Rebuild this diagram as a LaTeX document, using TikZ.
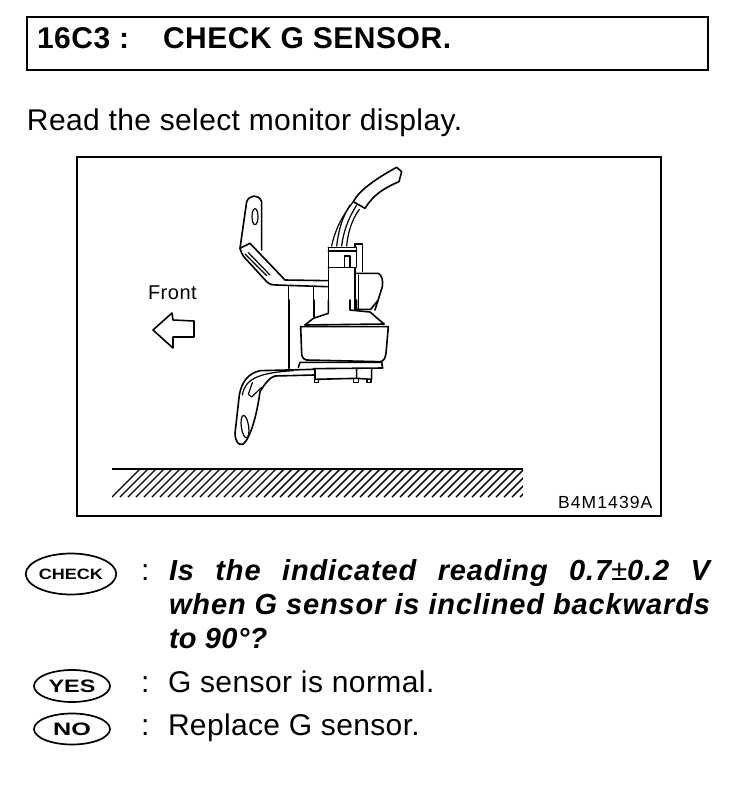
\documentclass[tikz,border=0pt]{standalone}
\usepackage{graphicx}
\usepackage{fontspec}
\setmainfont{Liberation Sans}
\usetikzlibrary{shapes.geometric}
\tikzset{
  ink/.style={line width=1.6pt,line join=round,line cap=round},
  fine/.style={line width=1.2pt,line join=round,line cap=round},
  txt/.style={anchor=base west,inner sep=0pt,outer sep=0pt,text=black},
  badge/.style={draw,ellipse,line width=1.7pt,inner sep=0pt}
}
\newcommand{\spaced}[2]{\addfontfeatures{LetterSpace=#1}#2}
\begin{document}
\begin{tikzpicture}[x=1pt,y=-1pt]
\useasboundingbox (0,0) rectangle (752,796);
\fill[white] (0,0) rectangle (752,796);
% header
\draw[line width=2.4pt] (27,17) rectangle (708,70);
\node[txt,font=\bfseries\fontsize{30}{30}\selectfont] (code) at (37,48) {\spaced{1.8}{16C3 :}};
\node[txt,font=\bfseries\fontsize{30}{30}\selectfont] (title) at (163,48) {\spaced{1.8}{CHECK G SENSOR.}};
\node[txt,font=\fontsize{30}{30}\selectfont] (lead) at (27,130) {\spaced{1.3}{Read the select monitor display.}};
% figure frame
\draw[line width=1.6pt] (77,157) rectangle (661,516);
\node[txt,font=\fontsize{20}{20}\selectfont] (front) at (148,299) {\spaced{2.5}{Front}};
\node[txt,font=\fontsize{17.5}{17.5}\selectfont] (ref) at (558,508) {\spaced{6.4}{B4M1439A}};
\draw[ink] (153,330) -- (172,313) -- (173,320) -- (194,321) -- (194,337) -- (173,337) -- (173,348) -- cycle;
% ground
\draw[line width=2pt] (112,469) -- (523,469);
\begin{scope}
\clip (112,469) rectangle (523,497);
\foreach \i in {0,...,56} {
  \draw[line width=1.4pt] ({112+\i*8},497) -- ++(30,-30);
}
\end{scope}
% upper part of the sensor
\begin{scope}[shift={(210,160)},scale=1/3]
\draw[ink] (90,265) -- (110,125) .. controls (118,105) and (145,100) .. (155,125) -- (155,270);
\draw[fine] (135,170) ellipse (9 and 24);
\draw[ink] (90,265) -- (120,250) -- (225,360) -- (352,362);
\draw[ink] (90,265) .. controls (95,285) and (105,295) .. (115,305) -- (170,365) .. controls (180,375) and (190,375) .. (200,375) -- (352,380);
\draw[fine] (105,282) -- (170,347);
\draw[fine] (115,278) -- (180,345);
\draw[ink] (235,378) -- (235,450);
\draw[ink] (310,380) -- (310,450);
% cable
\draw[ink] (430,125) .. controls (445,95) and (490,60) .. (560,22) -- (575,35) -- (567,65) .. controls (520,85) and (490,105) .. (465,145) -- cycle;
\draw[fine] (430,125) .. controls (395,170) and (375,210) .. (365,258);
\draw[fine] (420,135) .. controls (395,175) and (385,215) .. (380,258);
\draw[fine] (440,135) .. controls (415,175) and (400,215) .. (395,258);
\draw[fine] (448,148) .. controls (425,180) and (413,220) .. (410,258);
% connector
\draw[ink] (355,262) -- (435,262) -- (435,252) -- (458,252) -- (458,335);
\draw[ink] (355,262) -- (355,450);
\draw[ink] (355,273) -- (440,273);
\draw[ink] (440,262) -- (440,322);
\draw[ink] (403,322) -- (403,288) -- (420,288) -- (420,322);
\draw[ink] (355,322) -- (435,322) -- (435,450);
\draw[ink] (440,340) -- (505,340) .. controls (515,345) and (520,360) .. (517,380) -- (495,450);
\draw[fine] (445,345) -- (445,450);
\end{scope}
% lower part of the sensor
\begin{scope}[shift={(210,300)},scale=1/3]
\draw[ink] (237,0) -- (237,205);
\draw[ink] (312,0) -- (312,50);
\draw[ink] (355,0) -- (355,40) -- (310,55) -- (285,75);
\draw[ink] (420,0) -- (420,30) -- (480,36) -- (522,72);
\draw[ink] (440,0) -- (440,28) -- (482,28) -- (505,0);
\draw[ink] (285,75) -- (522,72);
\draw[ink] (272,80) -- (535,80) -- (528,160) .. controls (526,175) and (520,185) .. (510,185) -- (290,180) .. controls (280,178) and (275,170) .. (275,160) -- cycle;
\draw[ink] (265,202) -- (270,187) -- (515,187) -- (518,204) -- (310,206);
\draw[ink] (315,206) -- (315,238) -- (440,235) -- (440,206);
\draw[ink] (440,235) -- (485,238) -- (485,206);
\draw[ink] (314,238) rectangle (325,247);
\draw[ink] (431,235) rectangle (445,247);
\draw[ink] (471,238) rectangle (483,248);
\draw[ink] (312,208) -- (150,212) .. controls (115,220) and (95,245) .. (88,285) -- (75,400) .. controls (76,425) and (85,438) .. (100,432) .. controls (120,415) and (140,350) .. (150,275) .. controls (165,250) and (180,232) .. (195,228) -- (312,225);
\draw[fine] (250,212) .. controls (150,218) and (105,235) .. (97,285);
\draw[fine] (127,248) -- (115,283) -- (125,291) -- (155,262);
\draw[fine,rotate around={8:(105,380)}] (105,380) ellipse (11 and 34);
\end{scope}
% legend
\node[badge,minimum width=90pt,minimum height=41pt] (check) at (71,574) {\fontsize{15}{15}\selectfont\bfseries\scalebox{1.2}[1]{CHECK}};
\node[badge,minimum width=76pt,minimum height=32pt] (yes) at (72,686) {\fontsize{18}{18}\selectfont\bfseries\scalebox{1.3}[1]{YES}};
\node[badge,minimum width=76pt,minimum height=31pt] (no) at (72,729) {\fontsize{18}{18}\selectfont\bfseries\scalebox{1.4}[1]{NO}};
\node[txt,font=\fontsize{30}{30}\selectfont] (c1) at (141,580) {:};
\node[txt,font=\fontsize{30}{30}\selectfont] (c2) at (141,692) {:};
\node[txt,font=\fontsize{30}{30}\selectfont] (c3) at (141,735) {:};
\node[txt,font=\bfseries\itshape\fontsize{29}{29}\selectfont] (q1) at (169,580) {\makebox[541pt][s]{\spaced{3}{Is the indicated reading 0.7{\mdseries ±}0.2 V}}};
\node[txt,font=\bfseries\itshape\fontsize{29}{29}\selectfont] (q2) at (169,614) {\makebox[541pt][s]{\spaced{3}{when G sensor is inclined backwards}}};
\node[txt,font=\bfseries\itshape\fontsize{29}{29}\selectfont] (q3) at (169,648) {\spaced{1}{to 90°?}};
\node[txt,font=\fontsize{30}{30}\selectfont] (a1) at (168,692) {\spaced{1.4}{G sensor is normal.}};
\node[txt,font=\fontsize{30}{30}\selectfont] (a2) at (168,735) {\spaced{1.2}{Replace G sensor.}};
\end{tikzpicture}
\end{document}
